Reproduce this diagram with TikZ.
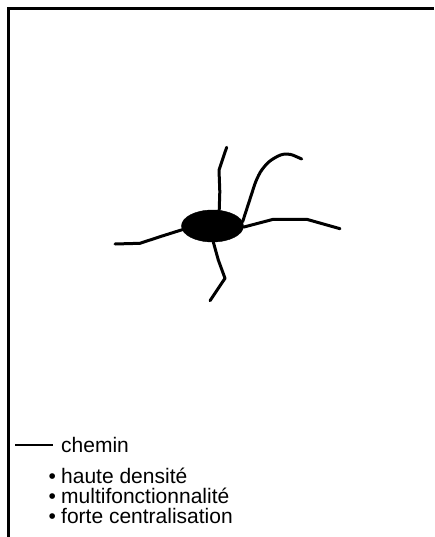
\documentclass[tikz,border=0pt]{standalone}
\usepackage{fontspec}
\setmainfont{Liberation Sans}
\usetikzlibrary{shapes.geometric}
\begin{document}
\begin{tikzpicture}[x=1pt,y=-1pt,
  road/.style={line width=3pt, line join=round, line cap=round},
  frameline/.style={line width=2.2pt},
  legtext/.style={anchor=base west, inner sep=0pt, font=\fontsize{21}{20}\selectfont},
  hubstyle/.style={ellipse, fill=black, draw=black, inner sep=0pt, minimum width=62pt, minimum height=32pt}]
\useasboundingbox (0,0) rectangle (434,537);
% frame
\coordinate (tr) at (434,8.5);
\coordinate (tl) at (8.5,8.5);
\coordinate (bl) at (8.5,537);
\draw[frameline] (tr) -- (tl) -- (bl);
% hub
\node[hubstyle] (hub) at (212.5,226) {};
% road ends
\coordinate (topend) at (226.7,147.3);
\coordinate (urend) at (301.7,159);
\coordinate (rend) at (340,228.7);
\coordinate (lend) at (115,244);
\coordinate (bend) at (210,300.7);
% roads
\draw[road] (hub.67) -- (219.8,191.7) -- (219,170) -- (224,155) -- (topend);
\draw[road, rounded corners=7pt] (hub.8) -- (256.7,178.3) -- (264,166) -- (274,157.5) -- (287,152.5) -- (urend);
\draw[road] (hub.358) -- (273.3,219.3) -- (306.7,219.3) -- (rend);
\draw[road] (hub.187) -- (160,236.7) -- (140,243.3) -- (lend);
\draw[road] (hub.273) -- (218.3,260) -- (225,278.3) -- (bend);
% legend
\coordinate (la) at (15,445);
\coordinate (lb) at (53,445);
\draw[line width=1.5pt] (la) -- (lb);
\node[legtext] (chemin) at (61,452) {chemin};
\node[legtext] (d1) at (48.5,483) {•};
\node[legtext] (t1) at (61,483) {haute densité};
\node[legtext] (d2) at (48.5,503) {•};
\node[legtext] (t2) at (61,503) {multifonctionnalité};
\node[legtext] (d3) at (48.5,523) {•};
\node[legtext] (t3) at (61,523) {forte centralisation};
\end{tikzpicture}
\end{document}
